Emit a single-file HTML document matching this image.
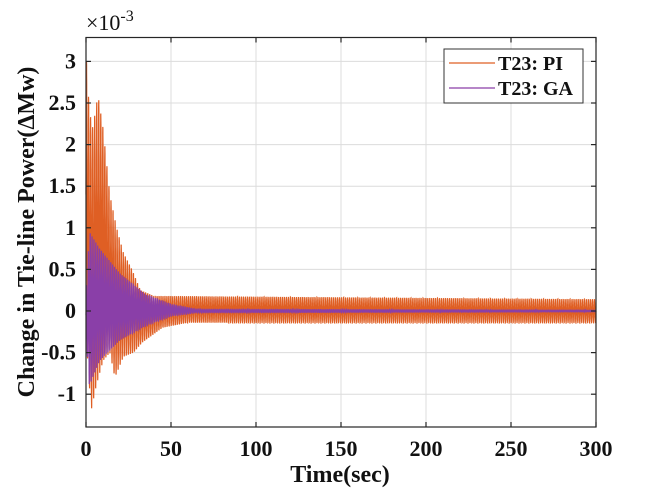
<!DOCTYPE html>
<html><head><meta charset="utf-8"><style>
body{margin:0;background:#fff;}
svg{display:block;font-family:"Liberation Serif",serif;font-weight:bold;}
</style></head><body>
<svg id="s" width="658" height="494" xmlns="http://www.w3.org/2000/svg">
<rect width="658" height="494" fill="#fff"/>
<g id="grid" stroke="#dcdcdc" stroke-width="1"></g>
<path id="pi" fill="none" stroke="#df5f24" stroke-width="1.2"/>
<path id="ga" fill="none" stroke="#8a3fa8" stroke-width="1.2"/>
<g id="axes" stroke="#262626" stroke-width="1.2" fill="none"></g>
<g id="lab" font-size="22" fill="#111"></g>
<text x="86" y="30" font-size="22" font-weight="normal" fill="#111">×10<tspan font-size="16" dy="-9">-3</tspan></text>
<text x="340" y="482" font-size="24" text-anchor="middle" fill="#111">Time(sec)</text>
<text transform="translate(34,232) rotate(-90)" font-size="24" text-anchor="middle" fill="#111">Change in Tie-line Power(ΔMw)</text>
<rect x="444" y="49" width="139" height="54" fill="#fff" stroke="#333" stroke-width="1"/>
<line x1="449" y1="63" x2="495" y2="63" stroke="#df5f24" stroke-width="1.2"/>
<line x1="449" y1="88" x2="495" y2="88" stroke="#8a3fa8" stroke-width="1.2"/>
<text x="498" y="70" font-size="20" fill="#111">T23: PI</text>
<text x="498" y="95" font-size="20" fill="#111">T23: GA</text>
</svg>
<script>
var L=86,R=596,T=37.5,B=427,y0=311,U=83.2;
function X(t){return L+t*(R-L)/300}
function Y(v){return y0-v*U}
var g=document.getElementById('grid'),ax=document.getElementById('axes'),lab=document.getElementById('lab'),ns='http://www.w3.org/2000/svg';
function el(p,n,a,txt){var e=document.createElementNS(ns,n);for(var k in a)e.setAttribute(k,a[k]);if(txt!=null)e.textContent=txt;p.appendChild(e);return e}
for(var t=0;t<=300;t+=50){var x=X(t);el(g,'line',{x1:x,x2:x,y1:T,y2:B});el(ax,'line',{x1:x,x2:x,y1:B,y2:B-5});el(ax,'line',{x1:x,x2:x,y1:T,y2:T+5});el(lab,'text',{x:x,y:B+29,'text-anchor':'middle'},String(t))}
[-1,-0.5,0,0.5,1,1.5,2,2.5,3].forEach(function(v){var y=Y(v);el(g,'line',{x1:L,x2:R,y1:y,y2:y});el(ax,'line',{x1:L,x2:L+5,y1:y,y2:y});el(ax,'line',{x1:R,x2:R-5,y1:y,y2:y});el(lab,'text',{x:L-10,y:y+7,'text-anchor':'end'},String(v))});
el(ax,'rect',{x:L,y:T,width:R-L,height:B-T});
function interp(pts,t){for(var i=1;i<pts.length;i++){if(t<=pts[i][0]){var a=pts[i-1],b=pts[i];return a[1]+(b[1]-a[1])*(t-a[0])/(b[0]-a[0])}}return pts[pts.length-1][1]}
var up=[[0,3.1],[2,2.4],[4,2.2],[7,2.6],[10,2.2],[14,1.4],[18,1.0],[22,0.7],[27,0.5],[32,0.25],[40,0.18],[300,0.14]];
var lo=[[0,-0.3],[3,-1.2],[6,-0.9],[10,-0.6],[14,-0.5],[17,-0.8],[22,-0.55],[28,-0.5],[33,-0.38],[45,-0.2],[60,-0.14],[300,-0.14]];
var gu=[[0,0.2],[2,0.95],[8,0.75],[20,0.45],[35,0.2],[50,0.08],[65,0.02],[300,0.01]];
var gl=[[0,-0.3],[2,-0.9],[8,-0.6],[20,-0.35],[35,-0.18],[50,-0.06],[65,-0.02],[300,-0.01]];
var P=1.2,dp='',dg='';
for(var i=0;i<=300*30;i++){var t=i/30;var s=Math.sin(2*Math.PI*t/P);
var u=interp(up,t),l=interp(lo,t);var v=(u+l)/2+(u-l)/2*s;
var a=interp(gu,t),b=interp(gl,t);var w=(a+b)/2+(a-b)/2*Math.sin(2*Math.PI*t/1.1);
dp+=(i?'L':'M')+X(t).toFixed(1)+' '+Y(v).toFixed(1);dg+=(i?'L':'M')+X(t).toFixed(1)+' '+Y(w).toFixed(1);}
document.getElementById('pi').setAttribute('d',dp);document.getElementById('ga').setAttribute('d',dg);
</script>
</body></html>
